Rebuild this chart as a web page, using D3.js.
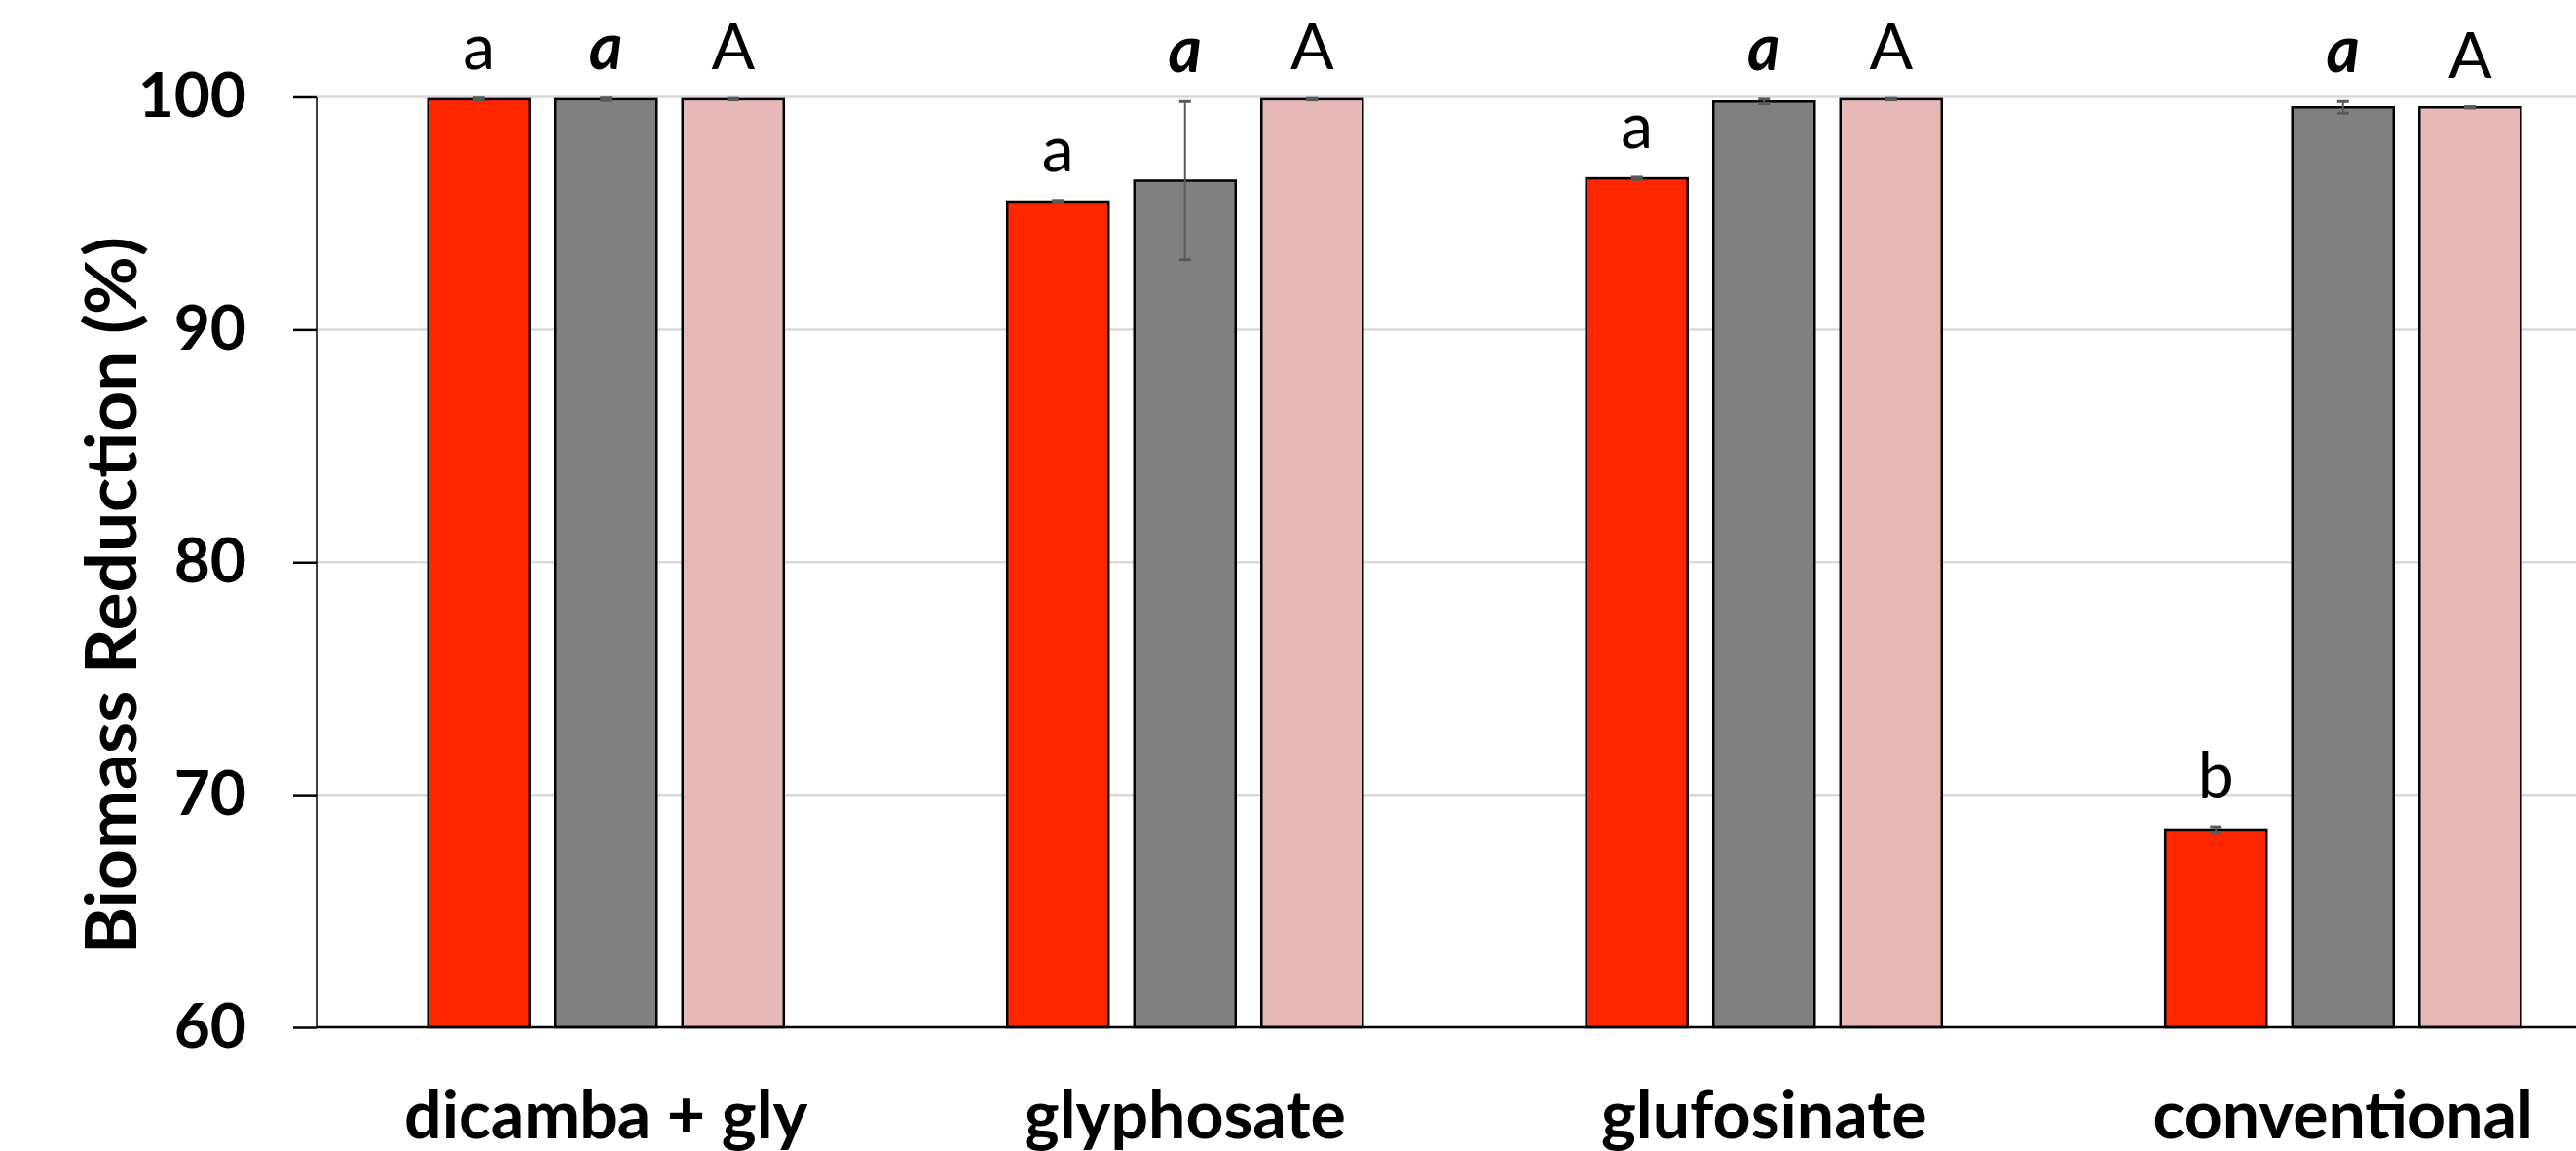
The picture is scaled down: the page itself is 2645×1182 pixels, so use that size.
<!DOCTYPE html>
<html>
<head>
<meta charset="utf-8">
<script src="https://cdn.jsdelivr.net/npm/d3@7"></script>
<style>
  body { margin: 0; background: #fff; }
  svg { display: block; }
</style>
</head>
<body>
<svg width="2645" height="1182"></svg>
<script>
// data
var categories = ["dicamba + gly", "glyphosate", "glufosinate", "conventional"];
var seriesKeys = ["red", "gray", "pink"];

var redValues  = [99.9, 95.5, 96.5, 68.5];
var grayValues = [99.9, 96.4, 99.8, 99.55];
var pinkValues = [99.9, 99.9, 99.9, 99.55];

var redErrors  = [0.05, 0.05, 0.05, 0.12];
var grayErrors = [0.05, 3.4, 0.1, 0.25];
var pinkErrors = [0.03, 0.03, 0.03, 0.03];

var redLetters  = ["a", "a", "a", "b"];
var grayLetters = ["a", "a", "a", "a"];
var pinkLetters = ["A", "A", "A", "A"];

var yTicks = [60, 70, 80, 90, 100];
var yTitle = "Biomass Reduction (%)";

var colors = { red: "#ff2600", gray: "#808080", pink: "#e6b8b7" };

var values = { red: redValues, gray: grayValues, pink: pinkValues };
var errors = { red: redErrors, gray: grayErrors, pink: pinkErrors };
var letters = { red: redLetters, gray: grayLetters, pink: pinkLetters };

var svg = d3.select("svg");

var plotLeft = 325, plotTop = 99.5, plotBottom = 1055, plotRight = 2645;
var groupWidth = 594.5;

var x0 = d3.scaleBand()
    .domain(categories)
    .range([plotLeft, plotLeft + groupWidth * categories.length])
    .padding(0);

var x1 = d3.scaleBand()
    .domain(seriesKeys)
    .range([0, x0.bandwidth()])
    .paddingInner(0.203)
    .paddingOuter(0.879);

var y = d3.scaleLinear()
    .domain([60, 100])
    .range([plotBottom, plotTop]);

// build rows for drawing
var rows = [];
categories.forEach(function(c, i) {
  seriesKeys.forEach(function(k) {
    rows.push({
      cat: c,
      key: k,
      value: values[k][i],
      err: errors[k][i],
      letter: letters[k][i]
    });
  });
});

// gridlines
svg.append("g")
    .selectAll("line")
    .data(yTicks.filter(function(t) { return t > 60; }))
    .enter()
    .append("line")
    .attr("x1", plotLeft)
    .attr("x2", plotRight)
    .attr("y1", function(d) { return y(d); })
    .attr("y2", function(d) { return y(d); })
    .attr("stroke", "#d9d9d9")
    .attr("stroke-width", 2.5);

// bars
svg.append("g")
    .selectAll("rect")
    .data(rows)
    .enter()
    .append("rect")
    .attr("x", function(d) { return x0(d.cat) + x1(d.key); })
    .attr("y", function(d) { return y(d.value); })
    .attr("width", x1.bandwidth())
    .attr("height", function(d) { return y(60) - y(d.value); })
    .attr("fill", function(d) { return colors[d.key]; })
    .attr("stroke", "#000")
    .attr("stroke-width", 2.5);

// error bars
var errG = svg.append("g")
    .attr("stroke", "#595959");

function cx(d) { return x0(d.cat) + x1(d.key) + x1.bandwidth() / 2; }

errG.selectAll("line.stem")
    .data(rows)
    .enter()
    .append("line")
    .attr("class", "stem")
    .attr("x1", cx)
    .attr("x2", cx)
    .attr("y1", function(d) { return y(d.value + d.err); })
    .attr("y2", function(d) { return y(d.value - d.err); })
    .attr("stroke-width", 2);

errG.selectAll("line.capTop")
    .data(rows)
    .enter()
    .append("line")
    .attr("class", "capTop")
    .attr("x1", function(d) { return cx(d) - 6; })
    .attr("x2", function(d) { return cx(d) + 6; })
    .attr("y1", function(d) { return y(d.value + d.err); })
    .attr("y2", function(d) { return y(d.value + d.err); })
    .attr("stroke-width", 3);

errG.selectAll("line.capBot")
    .data(rows)
    .enter()
    .append("line")
    .attr("class", "capBot")
    .attr("x1", function(d) { return cx(d) - 6; })
    .attr("x2", function(d) { return cx(d) + 6; })
    .attr("y1", function(d) { return y(d.value - d.err); })
    .attr("y2", function(d) { return y(d.value - d.err); })
    .attr("stroke-width", 3);

// y axis
var yAxis = svg.append("g")
    .attr("transform", "translate(" + plotLeft + ",0)")
    .call(d3.axisLeft(y)
      .tickValues(yTicks)
      .tickSizeInner(24)
      .tickSizeOuter(0)
      .tickPadding(48)
      .tickFormat(d3.format("d")));

yAxis.selectAll("path, line")
    .attr("stroke", "#000")
    .attr("stroke-width", 2.5);

yAxis.selectAll("text")
    .attr("fill", "#000")
    .style("font-family", "Lato, sans-serif")
    .style("font-weight", "700")
    .style("font-size", "64px");

// x axis
var xAxis = svg.append("g")
    .attr("transform", "translate(0," + plotBottom + ")")
    .call(d3.axisBottom(x0).tickSize(0).tickPadding(66));

xAxis.select("path.domain")
    .attr("d", "M" + plotLeft + ",0H" + plotRight)
    .attr("stroke", "#000")
    .attr("stroke-width", 2.5);

xAxis.selectAll("text")
    .attr("fill", "#000")
    .style("font-family", "Lato, sans-serif")
    .style("font-weight", "700")
    .style("font-size", "68px");

// significance letters
svg.append("g")
    .selectAll("text")
    .data(rows)
    .enter()
    .append("text")
    .attr("x", cx)
    .attr("y", function(d) { return y(d.value + d.err) - 30; })
    .attr("text-anchor", "middle")
    .style("font-family", "Lato, sans-serif")
    .style("font-size", "66px")
    .style("font-weight", function(d) { return d.key == "gray" ? "700" : "400"; })
    .style("font-style", function(d) { return d.key == "gray" ? "italic" : "normal"; })
    .text(function(d) { return d.letter; });

// y title
svg.append("text")
    .attr("transform", "translate(140," + ((250 + 973) / 2) + ") rotate(-90)")
    .attr("text-anchor", "middle")
    .style("font-family", "Lato, sans-serif")
    .style("font-weight", "700")
    .style("font-size", "73px")
    .text(yTitle);
</script>
</body>
</html>
